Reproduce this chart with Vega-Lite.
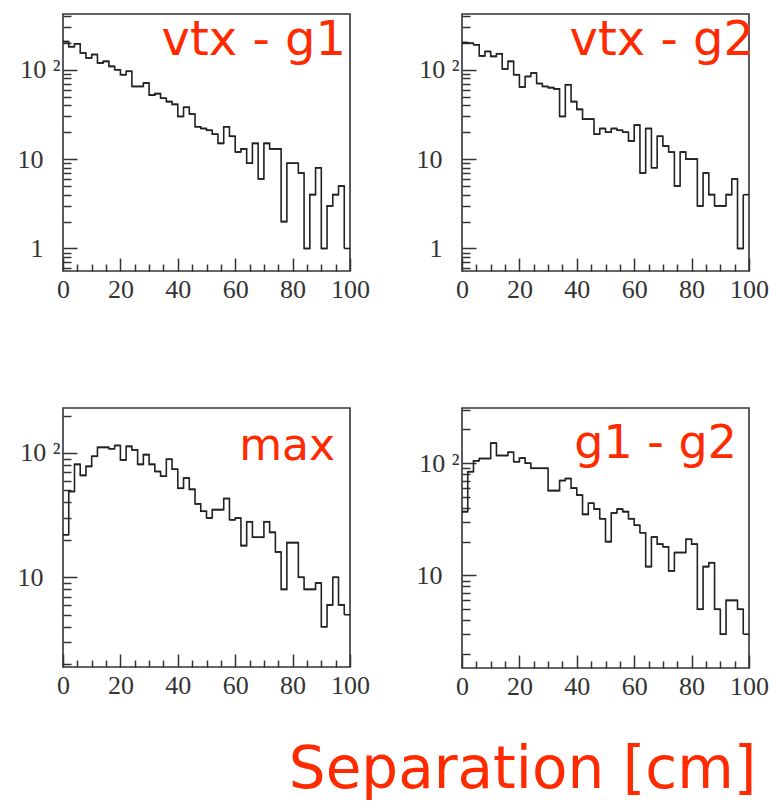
{
  "$schema": "https://vega.github.io/schema/vega-lite/v6.json",
  "background": "white",
  "padding": {"left": 12, "top": 2, "right": 0, "bottom": 0},
  "autosize": {"type": "pad"},
  "config": {
    "view": {"stroke": "#333", "strokeWidth": 1.6},
    "axis": {"domain": false, "grid": false, "title": null, "labelFont": "Liberation Serif", "labelFontSize": 26, "labelColor": "#333", "tickColor": "#333", "tickWidth": 1.5, "labelFlush": false, "labelOverlap": false},
    "title": {"font": "DejaVu Sans", "fontSize": 46, "fontWeight": "normal", "color": "#ff2a00", "anchor": "end", "frame": "group", "baseline": "alphabetic"}
  },
  "title": {"text": "Separation [cm]", "orient": "bottom", "anchor": "end", "frame": "bounds", "fontSize": 58, "offset": 36, "dx": -13},
  "data": {"values": [
{"p":"g1","x0":0,"x1":2,"n":206},{"p":"g1","x0":2,"x1":4,"n":181},{"p":"g1","x0":4,"x1":6,"n":195},{"p":"g1","x0":6,"x1":8,"n":154},{"p":"g1","x0":8,"x1":10,"n":135},{"p":"g1","x0":10,"x1":12,"n":148},{"p":"g1","x0":12,"x1":14,"n":119},{"p":"g1","x0":14,"x1":16,"n":124},{"p":"g1","x0":16,"x1":18,"n":109},{"p":"g1","x0":18,"x1":20,"n":100},
{"p":"g1","x0":20,"x1":22,"n":88},{"p":"g1","x0":22,"x1":24,"n":96},{"p":"g1","x0":24,"x1":26,"n":65},{"p":"g1","x0":26,"x1":28,"n":65},{"p":"g1","x0":28,"x1":30,"n":71},{"p":"g1","x0":30,"x1":32,"n":52},{"p":"g1","x0":32,"x1":34,"n":54},{"p":"g1","x0":34,"x1":36,"n":48},{"p":"g1","x0":36,"x1":38,"n":44},{"p":"g1","x0":38,"x1":40,"n":41},
{"p":"g1","x0":40,"x1":42,"n":30},{"p":"g1","x0":42,"x1":44,"n":38},{"p":"g1","x0":44,"x1":46,"n":32},{"p":"g1","x0":46,"x1":48,"n":23},{"p":"g1","x0":48,"x1":50,"n":22},{"p":"g1","x0":50,"x1":52,"n":21},{"p":"g1","x0":52,"x1":54,"n":19},{"p":"g1","x0":54,"x1":56,"n":15},{"p":"g1","x0":56,"x1":58,"n":23},{"p":"g1","x0":58,"x1":60,"n":18},
{"p":"g1","x0":60,"x1":62,"n":12},{"p":"g1","x0":62,"x1":64,"n":13},{"p":"g1","x0":64,"x1":66,"n":9},{"p":"g1","x0":66,"x1":68,"n":15},{"p":"g1","x0":68,"x1":70,"n":6},{"p":"g1","x0":70,"x1":72,"n":15},{"p":"g1","x0":72,"x1":74,"n":13},{"p":"g1","x0":74,"x1":76,"n":13},{"p":"g1","x0":76,"x1":78,"n":2},{"p":"g1","x0":78,"x1":80,"n":9},
{"p":"g1","x0":80,"x1":82,"n":9},{"p":"g1","x0":82,"x1":84,"n":7},{"p":"g1","x0":84,"x1":86,"n":1},{"p":"g1","x0":86,"x1":88,"n":4},{"p":"g1","x0":88,"x1":90,"n":8},{"p":"g1","x0":90,"x1":92,"n":1},{"p":"g1","x0":92,"x1":94,"n":3},{"p":"g1","x0":94,"x1":96,"n":4},{"p":"g1","x0":96,"x1":98,"n":5},{"p":"g1","x0":98,"x1":100,"n":1},
{"p":"g2","x0":0,"x1":2,"n":201},{"p":"g2","x0":2,"x1":4,"n":198},{"p":"g2","x0":4,"x1":6,"n":190},{"p":"g2","x0":6,"x1":8,"n":143},{"p":"g2","x0":8,"x1":10,"n":160},{"p":"g2","x0":10,"x1":12,"n":141},{"p":"g2","x0":12,"x1":14,"n":151},{"p":"g2","x0":14,"x1":16,"n":102},{"p":"g2","x0":16,"x1":18,"n":124},{"p":"g2","x0":18,"x1":20,"n":88},
{"p":"g2","x0":20,"x1":22,"n":64},{"p":"g2","x0":22,"x1":24,"n":84},{"p":"g2","x0":24,"x1":26,"n":92},{"p":"g2","x0":26,"x1":28,"n":70},{"p":"g2","x0":28,"x1":30,"n":65},{"p":"g2","x0":30,"x1":32,"n":63},{"p":"g2","x0":32,"x1":34,"n":61},{"p":"g2","x0":34,"x1":36,"n":30},{"p":"g2","x0":36,"x1":38,"n":68},{"p":"g2","x0":38,"x1":40,"n":44},
{"p":"g2","x0":40,"x1":42,"n":36},{"p":"g2","x0":42,"x1":44,"n":28},{"p":"g2","x0":44,"x1":46,"n":28},{"p":"g2","x0":46,"x1":48,"n":19},{"p":"g2","x0":48,"x1":50,"n":22},{"p":"g2","x0":50,"x1":52,"n":20},{"p":"g2","x0":52,"x1":54,"n":22},{"p":"g2","x0":54,"x1":56,"n":21},{"p":"g2","x0":56,"x1":58,"n":20},{"p":"g2","x0":58,"x1":60,"n":16},
{"p":"g2","x0":60,"x1":62,"n":24},{"p":"g2","x0":62,"x1":64,"n":7},{"p":"g2","x0":64,"x1":66,"n":22},{"p":"g2","x0":66,"x1":68,"n":8},{"p":"g2","x0":68,"x1":70,"n":18},{"p":"g2","x0":70,"x1":72,"n":14},{"p":"g2","x0":72,"x1":74,"n":12},{"p":"g2","x0":74,"x1":76,"n":5},{"p":"g2","x0":76,"x1":78,"n":12},{"p":"g2","x0":78,"x1":80,"n":10},
{"p":"g2","x0":80,"x1":82,"n":10},{"p":"g2","x0":82,"x1":84,"n":3},{"p":"g2","x0":84,"x1":86,"n":7},{"p":"g2","x0":86,"x1":88,"n":4},{"p":"g2","x0":88,"x1":90,"n":3},{"p":"g2","x0":90,"x1":92,"n":3},{"p":"g2","x0":92,"x1":94,"n":4},{"p":"g2","x0":94,"x1":96,"n":6},{"p":"g2","x0":96,"x1":98,"n":1},{"p":"g2","x0":98,"x1":100,"n":4},
{"p":"max","x0":0,"x1":2,"n":22},{"p":"max","x0":2,"x1":4,"n":49},{"p":"max","x0":4,"x1":6,"n":81},{"p":"max","x0":6,"x1":8,"n":66},{"p":"max","x0":8,"x1":10,"n":78},{"p":"max","x0":10,"x1":12,"n":94},{"p":"max","x0":12,"x1":14,"n":111},{"p":"max","x0":14,"x1":16,"n":111},{"p":"max","x0":16,"x1":18,"n":108},{"p":"max","x0":18,"x1":20,"n":115},
{"p":"max","x0":20,"x1":22,"n":88},{"p":"max","x0":22,"x1":24,"n":113},{"p":"max","x0":24,"x1":26,"n":106},{"p":"max","x0":26,"x1":28,"n":81},{"p":"max","x0":28,"x1":30,"n":97},{"p":"max","x0":30,"x1":32,"n":81},{"p":"max","x0":32,"x1":34,"n":71},{"p":"max","x0":34,"x1":36,"n":65},{"p":"max","x0":36,"x1":38,"n":89},{"p":"max","x0":38,"x1":40,"n":74},
{"p":"max","x0":40,"x1":42,"n":52},{"p":"max","x0":42,"x1":44,"n":63},{"p":"max","x0":44,"x1":46,"n":51},{"p":"max","x0":46,"x1":48,"n":39},{"p":"max","x0":48,"x1":50,"n":34},{"p":"max","x0":50,"x1":52,"n":30},{"p":"max","x0":52,"x1":54,"n":35},{"p":"max","x0":54,"x1":56,"n":35},{"p":"max","x0":56,"x1":58,"n":43},{"p":"max","x0":58,"x1":60,"n":29},
{"p":"max","x0":60,"x1":62,"n":30},{"p":"max","x0":62,"x1":64,"n":18},{"p":"max","x0":64,"x1":66,"n":28},{"p":"max","x0":66,"x1":68,"n":21},{"p":"max","x0":68,"x1":70,"n":21},{"p":"max","x0":70,"x1":72,"n":28},{"p":"max","x0":72,"x1":74,"n":23},{"p":"max","x0":74,"x1":76,"n":16},{"p":"max","x0":76,"x1":78,"n":8},{"p":"max","x0":78,"x1":80,"n":19},
{"p":"max","x0":80,"x1":82,"n":19},{"p":"max","x0":82,"x1":84,"n":10},{"p":"max","x0":84,"x1":86,"n":8},{"p":"max","x0":86,"x1":88,"n":8},{"p":"max","x0":88,"x1":90,"n":9},{"p":"max","x0":90,"x1":92,"n":4},{"p":"max","x0":92,"x1":94,"n":6},{"p":"max","x0":94,"x1":96,"n":10},{"p":"max","x0":96,"x1":98,"n":6},{"p":"max","x0":98,"x1":100,"n":5},
{"p":"g12","x0":0,"x1":2,"n":37},{"p":"g12","x0":2,"x1":4,"n":84},{"p":"g12","x0":4,"x1":6,"n":105},{"p":"g12","x0":6,"x1":8,"n":110},{"p":"g12","x0":8,"x1":10,"n":110},{"p":"g12","x0":10,"x1":12,"n":151},{"p":"g12","x0":12,"x1":14,"n":117},{"p":"g12","x0":14,"x1":16,"n":117},{"p":"g12","x0":16,"x1":18,"n":125},{"p":"g12","x0":18,"x1":20,"n":103},
{"p":"g12","x0":20,"x1":22,"n":111},{"p":"g12","x0":22,"x1":24,"n":100},{"p":"g12","x0":24,"x1":26,"n":90},{"p":"g12","x0":26,"x1":28,"n":90},{"p":"g12","x0":28,"x1":30,"n":90},{"p":"g12","x0":30,"x1":32,"n":57},{"p":"g12","x0":32,"x1":34,"n":57},{"p":"g12","x0":34,"x1":36,"n":70},{"p":"g12","x0":36,"x1":38,"n":73},{"p":"g12","x0":38,"x1":40,"n":60},
{"p":"g12","x0":40,"x1":42,"n":52},{"p":"g12","x0":42,"x1":44,"n":35},{"p":"g12","x0":44,"x1":46,"n":44},{"p":"g12","x0":46,"x1":48,"n":39},{"p":"g12","x0":48,"x1":50,"n":32},{"p":"g12","x0":50,"x1":52,"n":20},{"p":"g12","x0":52,"x1":54,"n":36},{"p":"g12","x0":54,"x1":56,"n":39},{"p":"g12","x0":56,"x1":58,"n":37},{"p":"g12","x0":58,"x1":60,"n":32},
{"p":"g12","x0":60,"x1":62,"n":28},{"p":"g12","x0":62,"x1":64,"n":24},{"p":"g12","x0":64,"x1":66,"n":12},{"p":"g12","x0":66,"x1":68,"n":22},{"p":"g12","x0":68,"x1":70,"n":19},{"p":"g12","x0":70,"x1":72,"n":18},{"p":"g12","x0":72,"x1":74,"n":11},{"p":"g12","x0":74,"x1":76,"n":16},{"p":"g12","x0":76,"x1":78,"n":16},{"p":"g12","x0":78,"x1":80,"n":21},
{"p":"g12","x0":80,"x1":82,"n":19},{"p":"g12","x0":82,"x1":84,"n":5},{"p":"g12","x0":84,"x1":86,"n":12},{"p":"g12","x0":86,"x1":88,"n":13},{"p":"g12","x0":88,"x1":90,"n":5},{"p":"g12","x0":90,"x1":92,"n":3},{"p":"g12","x0":92,"x1":94,"n":6},{"p":"g12","x0":94,"x1":96,"n":6},{"p":"g12","x0":96,"x1":98,"n":5},{"p":"g12","x0":98,"x1":100,"n":3}
  ]},
  "vconcat": [
    {"hconcat": [
      {"width": 287, "height": 257, "title": {"text": "vtx - g1", "fontSize": 48, "offset": -62, "dx": -4},
       "transform": [{"filter": "datum.p === 'g1'"}],
       "encoding": {
         "x": {"field": "x0", "type": "quantitative", "scale": {"domain": [0, 100], "nice": false},
               "axis": {"values": [0,5,10,15,20,25,30,35,40,45,50,55,60,65,70,75,80,85,90,95,100], "labelExpr": "datum.value % 20 === 0 ? datum.label : ''", "tickSize": {"condition": {"test": "datum.value % 20 === 0", "value": -13}, "value": -7}, "labelPadding": 18}},
         "y": {"field": "n", "type": "quantitative", "scale": {"type": "log", "domain": [0.56, 420], "nice": false},
               "axis": {"values": [0.6,0.7,0.8,0.9,1,2,3,4,5,6,7,8,9,10,20,30,40,50,60,70,80,90,100,200,300,400], "labelExpr": "datum.value === 1 ? '1' : datum.value === 10 ? '10' : datum.value === 100 ? '10  ²' : ''", "tickSize": {"condition": {"test": "datum.value === 1 || datum.value === 10 || datum.value === 100", "value": -14}, "value": -8}, "labelPadding": {"condition": {"test": "datum.value === 100", "value": 17}, "value": 34}}}
       },
       "layer": [
         {"mark": {"type": "line", "interpolate": "step-after", "color": "#222", "strokeWidth": 1.6}},
         {"mark": {"type": "rule", "color": "#222", "strokeWidth": 1.6}, "encoding": {"x2": {"field": "x1"}}}
       ]},
      {"width": 287, "height": 257, "title": {"text": "vtx - g2", "fontSize": 48, "offset": -62, "dx": 5},
       "transform": [{"filter": "datum.p === 'g2'"}],
       "encoding": {
         "x": {"field": "x0", "type": "quantitative", "scale": {"domain": [0, 100], "nice": false},
               "axis": {"values": [0,5,10,15,20,25,30,35,40,45,50,55,60,65,70,75,80,85,90,95,100], "labelExpr": "datum.value % 20 === 0 ? datum.label : ''", "tickSize": {"condition": {"test": "datum.value % 20 === 0", "value": -13}, "value": -7}, "labelPadding": 18}},
         "y": {"field": "n", "type": "quantitative", "scale": {"type": "log", "domain": [0.56, 420], "nice": false},
               "axis": {"values": [0.6,0.7,0.8,0.9,1,2,3,4,5,6,7,8,9,10,20,30,40,50,60,70,80,90,100,200,300,400], "labelExpr": "datum.value === 1 ? '1' : datum.value === 10 ? '10' : datum.value === 100 ? '10  ²' : ''", "tickSize": {"condition": {"test": "datum.value === 1 || datum.value === 10 || datum.value === 100", "value": -14}, "value": -8}, "labelPadding": {"condition": {"test": "datum.value === 100", "value": 17}, "value": 34}}}
       },
       "layer": [
         {"mark": {"type": "line", "interpolate": "step-after", "color": "#222", "strokeWidth": 1.6}},
         {"mark": {"type": "rule", "color": "#222", "strokeWidth": 1.6}, "encoding": {"x2": {"field": "x1"}}}
       ]}
    ], "spacing": 112, "bounds": "flush"},
    {"hconcat": [
      {"width": 287, "height": 259, "title": {"text": "max", "fontSize": 44, "offset": -66, "dx": -15},
       "transform": [{"filter": "datum.p === 'max'"}],
       "encoding": {
         "x": {"field": "x0", "type": "quantitative", "scale": {"domain": [0, 100], "nice": false},
               "axis": {"values": [0,5,10,15,20,25,30,35,40,45,50,55,60,65,70,75,80,85,90,95,100], "labelExpr": "datum.value % 20 === 0 ? datum.label : ''", "tickSize": {"condition": {"test": "datum.value % 20 === 0", "value": -13}, "value": -7}, "labelPadding": 18}},
         "y": {"field": "n", "type": "quantitative", "scale": {"type": "log", "domain": [1.9, 230], "nice": false},
               "axis": {"values": [2,3,4,5,6,7,8,9,10,20,30,40,50,60,70,80,90,100,200], "labelExpr": "datum.value === 10 ? '10' : datum.value === 100 ? '10  ²' : ''", "tickSize": {"condition": {"test": "datum.value === 10 || datum.value === 100", "value": -14}, "value": -8}, "labelPadding": {"condition": {"test": "datum.value === 100", "value": 17}, "value": 34}}}
       },
       "layer": [
         {"mark": {"type": "line", "interpolate": "step-after", "color": "#222", "strokeWidth": 1.6}},
         {"mark": {"type": "rule", "color": "#222", "strokeWidth": 1.6}, "encoding": {"x2": {"field": "x1"}}}
       ]},
      {"width": 287, "height": 260, "title": {"text": "g1 - g2", "offset": -71, "dx": -12},
       "transform": [{"filter": "datum.p === 'g12'"}],
       "encoding": {
         "x": {"field": "x0", "type": "quantitative", "scale": {"domain": [0, 100], "nice": false},
               "axis": {"values": [0,5,10,15,20,25,30,35,40,45,50,55,60,65,70,75,80,85,90,95,100], "labelExpr": "datum.value % 20 === 0 ? datum.label : ''", "tickSize": {"condition": {"test": "datum.value % 20 === 0", "value": -13}, "value": -7}, "labelPadding": 18}},
         "y": {"field": "n", "type": "quantitative", "scale": {"type": "log", "domain": [1.5, 310], "nice": false},
               "axis": {"values": [2,3,4,5,6,7,8,9,10,20,30,40,50,60,70,80,90,100,200,300], "labelExpr": "datum.value === 10 ? '10' : datum.value === 100 ? '10  ²' : ''", "tickSize": {"condition": {"test": "datum.value === 10 || datum.value === 100", "value": -14}, "value": -8}, "labelPadding": {"condition": {"test": "datum.value === 100", "value": 17}, "value": 34}}}
       },
       "layer": [
         {"mark": {"type": "line", "interpolate": "step-after", "color": "#222", "strokeWidth": 1.6}},
         {"mark": {"type": "rule", "color": "#222", "strokeWidth": 1.6}, "encoding": {"x2": {"field": "x1"}}}
       ]}
    ], "spacing": 112, "bounds": "flush"}
  ],
  "spacing": 86
}
